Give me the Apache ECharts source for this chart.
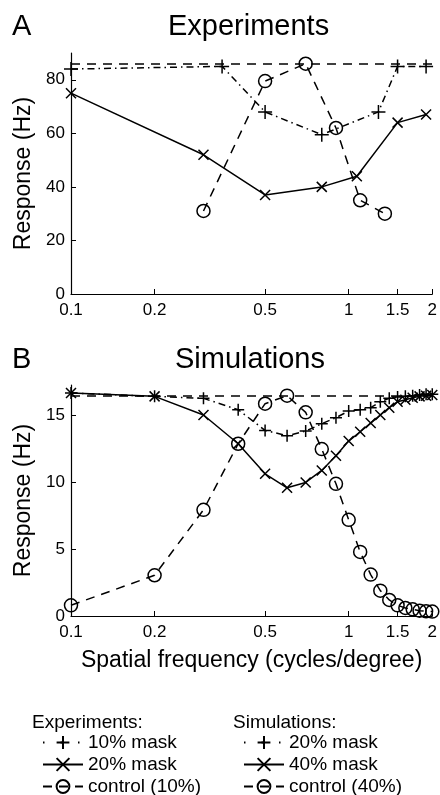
<!DOCTYPE html>
<html>
<head>
<meta charset="utf-8">
<script src="https://cdn.jsdelivr.net/npm/echarts@6/dist/echarts.min.js"></script>
<style>
html,body{margin:0;padding:0;background:#fff;}
#chart{width:440px;height:795px;}
</style>
</head>
<body>
<div id="chart"></div>
<script>
// ---------- data ----------
const xTickValues = [0.1, 0.2, 0.5, 1, 1.5, 2];
const yTicksA = [0, 20, 40, 60, 80];
const yTicksB = [0, 5, 10, 15];

// Experiments (panel A)
const expFreqMask10 = [0.1, 0.35, 0.5, 0.8, 1.28, 1.5, 1.9];
const expRespMask10 = [84, 85, 68, 59.5, 68, 85, 85];
const expFreqMask20 = [0.1, 0.3, 0.5, 0.8, 1.07, 1.5, 1.9];
const expRespMask20 = [75, 52, 37, 40, 44, 64, 67];
const expFreqCtl = [0.3, 0.5, 0.7, 0.9, 1.1, 1.35];
const expRespCtl = [31, 79.5, 86, 62, 35, 30];

// Simulations (panel B)
const simFreq = [0.1, 0.2, 0.3, 0.4, 0.5, 0.6, 0.7, 0.8, 0.9, 1.0, 1.1, 1.2, 1.3, 1.4, 1.5, 1.6, 1.7, 1.8, 1.9, 2.0];
const simRespMask20 = [16.7, 16.45, 16.3, 15.45, 13.9, 13.5, 13.85, 14.4, 14.85, 15.35, 15.45, 15.6, 16.05, 16.3, 16.4, 16.45, 16.5, 16.55, 16.6, 16.6];
const simRespMask40 = [16.7, 16.45, 15.05, 12.9, 10.65, 9.6, 10.0, 10.9, 12.0, 13.1, 13.8, 14.45, 15.05, 15.6, 16.05, 16.2, 16.35, 16.45, 16.5, 16.55];
const simRespCtl = [0.8, 3.05, 7.95, 12.9, 15.9, 16.5, 15.25, 12.5, 9.9, 7.2, 4.8, 3.1, 1.9, 1.2, 0.8, 0.6, 0.5, 0.4, 0.35, 0.33];

const expLabels = ['10% mask', '20% mask', 'control (10%)'];
const simLabels = ['20% mask', '40% mask', 'control (40%)'];

// ---------- styling ----------
const FONT = "'Liberation Sans', Arial, Helvetica, sans-serif";
const PLUS = 'path://M0,5L10,5M5,0L5,10';
const CROSS = 'path://M0,0L10,10M10,0L0,10';
const DASHDOT = [7, 4, 1.5, 4];
const DASHED = [9, 7];

function zip(xs, ys) { return xs.map((x, i) => [x, ys[i]]); }

function makeSeries(name, xs, ys, idx, kind, size) {
  const s = {
    name: name, type: 'line', xAxisIndex: idx, yAxisIndex: idx,
    data: zip(xs, ys), animation: false, silent: true,
    symbolSize: size, showAllSymbol: true,
    lineStyle: { color: '#000', width: 1.5 },
    itemStyle: { color: '#000', borderColor: '#000', borderWidth: 1.5 },
    emphasis: { disabled: true }
  };
  if (kind === 'plus') { s.symbol = PLUS; s.lineStyle.type = DASHDOT; }
  if (kind === 'cross') { s.symbol = CROSS; s.lineStyle.type = 'solid'; }
  if (kind === 'circle') {
    s.symbol = 'circle';
    s.lineStyle.type = DASHED;
    s.itemStyle.color = 'rgba(0,0,0,0)';
    s.markLine = {
      silent: true, symbol: ['none', 'none'], label: { show: false },
      lineStyle: { color: '#000', type: DASHED, width: 1.5 },
      emphasis: { disabled: true },
      data: [{ type: 'max' }]
    };
  }
  return s;
}

function xAxisDef(idx, showName) {
  return {
    type: 'log', logBase: 10, gridIndex: idx, min: 0.1, max: 2,
    axisLine: { show: true, lineStyle: { color: '#000', width: 1.2 } },
    axisTick: { show: true, inside: true, length: 5, customValues: xTickValues, lineStyle: { color: '#000' } },
    axisLabel: { customValues: xTickValues, color: '#000', fontSize: 17, fontFamily: FONT, margin: 8,
                 formatter: v => String(+v.toPrecision(3)) },
    splitLine: { show: false }, minorTick: { show: false },
    name: showName ? 'Spatial frequency (cycles/degree)' : '',
    nameLocation: 'middle', nameGap: 33,
    nameTextStyle: { color: '#000', fontSize: 23, fontFamily: FONT }
  };
}

function yAxisDef(idx, max, ticks) {
  return {
    type: 'value', gridIndex: idx, min: 0, max: max,
    axisLine: { show: true, lineStyle: { color: '#000', width: 1.2 } },
    axisTick: { show: true, inside: true, length: 5, customValues: ticks, lineStyle: { color: '#000' } },
    axisLabel: { customValues: ticks, color: '#000', fontSize: 17, fontFamily: FONT, margin: 6 },
    splitLine: { show: false },
    name: 'Response (Hz)', nameLocation: 'middle', nameGap: 30,
    nameTextStyle: { color: '#000', fontSize: 23, fontFamily: FONT }
  };
}

const expNames = expLabels.map(l => 'Experiments ' + l);
const simNames = simLabels.map(l => 'Simulations ' + l);

const series = [
  makeSeries(expNames[0], expFreqMask10, expRespMask10, 0, 'plus', 14),
  makeSeries(expNames[1], expFreqMask20, expRespMask20, 0, 'cross', 10),
  makeSeries(expNames[2], expFreqCtl, expRespCtl, 0, 'circle', 13),
  makeSeries(simNames[0], simFreq, simRespMask20, 1, 'plus', 12),
  makeSeries(simNames[1], simFreq, simRespMask40, 1, 'cross', 10),
  makeSeries(simNames[2], simFreq, simRespCtl, 1, 'circle', 13)
];

const titleStyle = { color: '#000', fontSize: 29, fontWeight: 'normal', fontFamily: FONT };
const legendText = { color: '#000', fontSize: 19, fontWeight: 'normal', fontFamily: FONT };

function legendDef(names, left) {
  return {
    orient: 'vertical', left: left, top: 733, height: 100, padding: 0,
    itemWidth: 40, itemHeight: 16, itemGap: 3,
    selectedMode: false,
    data: [
      { name: names[0], lineStyle: { type: [1.5, 16] } },
      { name: names[1] },
      { name: names[2] }
    ],
    textStyle: legendText,
    formatter: n => n.replace(/^\S+ /, '')
  };
}

const option = {
  backgroundColor: '#fff',
  animation: false,
  title: [
    { text: 'A', left: 12, top: 12, padding: 0, textStyle: titleStyle },
    { text: 'Experiments', left: 168, top: 12, padding: 0, textStyle: titleStyle },
    { text: 'B', left: 12, top: 345, padding: 0, textStyle: titleStyle },
    { text: 'Simulations', left: 175, top: 345, padding: 0, textStyle: titleStyle },
    { text: 'Experiments:', left: 32, top: 713, padding: 0, textStyle: legendText },
    { text: 'Simulations:', left: 233, top: 713, padding: 0, textStyle: legendText }
  ],
  grid: [
    { left: 71, right: 6, top: 53, height: 241, containLabel: false },
    { left: 71, right: 6, top: 385, height: 231, containLabel: false }
  ],
  xAxis: [xAxisDef(0, false), xAxisDef(1, true)],
  yAxis: [yAxisDef(0, 90, yTicksA), yAxisDef(1, 17.3, yTicksB)],
  legend: [legendDef(expNames, 42), legendDef(simNames, 243)],
  series: series
};

const chart = echarts.init(document.getElementById('chart'), null, { renderer: 'canvas' });
chart.setOption(option);
</script>
</body>
</html>
